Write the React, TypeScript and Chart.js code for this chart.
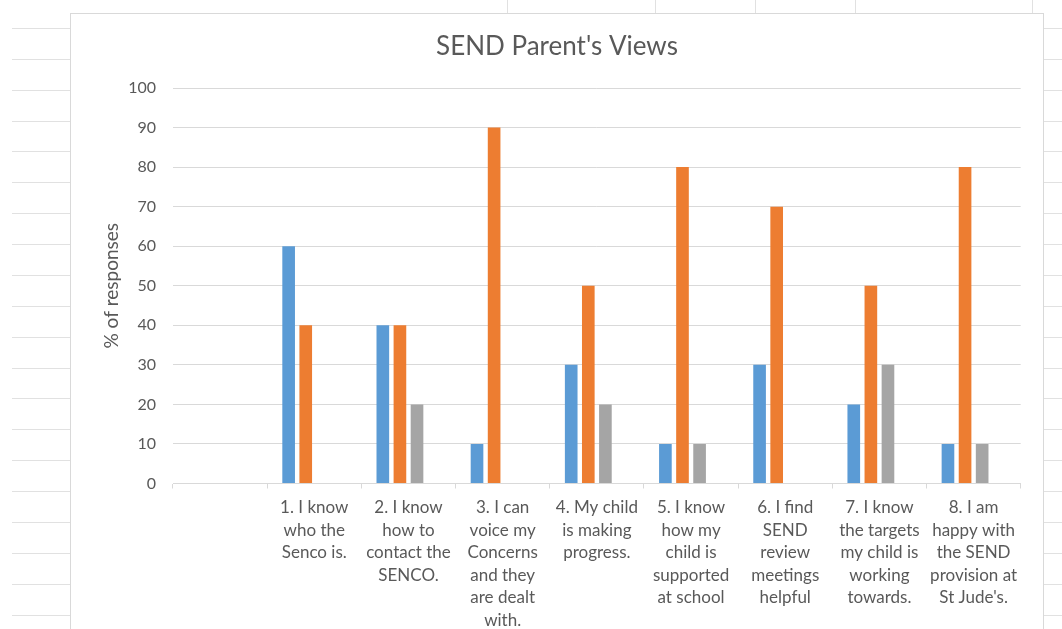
import React, { useEffect, useRef } from "react";
import { Chart, registerables } from "chart.js";

Chart.register(...registerables);

// ---- Data ----
const categories: (string | string[])[] = [
  "",
  ["1. I know", "who the", "Senco is."],
  ["2. I know", "how to", "contact the", "SENCO."],
  ["3. I can", "voice my", "Concerns", "and they", "are dealt", "with."],
  ["4. My child", "is making", "progress."],
  ["5. I know", "how my", "child is", "supported", "at school"],
  ["6. I find", "SEND", "review", "meetings", "helpful"],
  ["7. I know", "the targets", "my child is", "working", "towards."],
  ["8. I am", "happy with", "the SEND", "provision at", "St Jude's."],
];

const seriesBlue: (number | null)[] = [null, 60, 40, 10, 30, 10, 30, 20, 10];
const seriesOrange: (number | null)[] = [null, 40, 40, 90, 50, 80, 70, 50, 80];
const seriesGray: (number | null)[] = [null, 0, 20, 0, 20, 10, 0, 30, 10];
// empty fourth series (reserves its slot in each group, as in the original)
const seriesEmpty: (number | null)[] = [null, null, null, null, null, null, null, null, null];

const yTickValues = [0, 10, 20, 30, 40, 50, 60, 70, 80, 90, 100];

const chartTitle = "SEND Parent's Views";
const yAxisTitle = "% of responses";

const FONT = "Lato, 'Noto Sans', sans-serif";
const TEXT = "#595959";
const GRID = "#d9d9d9";

export default function App() {
  const canvasRef = useRef<HTMLCanvasElement | null>(null);

  useEffect(() => {
    document.body.style.margin = "0";
    const canvas = canvasRef.current;
    if (!canvas) return;
    const chart = new Chart(canvas, {
      type: "bar",
      data: {
        labels: categories,
        datasets: [
          { label: "A", data: seriesBlue, backgroundColor: "#5B9BD5", borderWidth: 0 },
          { label: "B", data: seriesOrange, backgroundColor: "#ED7D31", borderWidth: 0 },
          { label: "C", data: seriesGray, backgroundColor: "#A5A5A5", borderWidth: 0 },
          { label: "D", data: seriesEmpty, backgroundColor: "#FFC000", borderWidth: 0 },
        ],
      },
      options: {
        animation: false,
        responsive: false,
        maintainAspectRatio: false,
        datasets: {
          bar: { categoryPercentage: 0.726, barPercentage: 0.74 },
        },
        layout: { padding: { left: 22.3, right: 22.3, top: 0, bottom: 0 } },
        plugins: {
          legend: { display: false },
          tooltip: { enabled: false },
          title: {
            display: true,
            text: chartTitle,
            color: TEXT,
            font: { family: FONT, size: 26, weight: "normal", lineHeight: 1.2 },
            padding: { top: 17.5, bottom: 25.3 },
          },
        },
        scales: {
          x: {
            grid: {
              display: true,
              drawOnChartArea: false,
              drawTicks: true,
              tickLength: 5,
              color: GRID,
              offset: true,
            },
            border: { display: true, color: GRID },
            ticks: {
              color: TEXT,
              font: { family: FONT, size: 17, lineHeight: 1.3235 },
              padding: 8,
              maxRotation: 0,
              minRotation: 0,
              autoSkip: false,
            },
            afterFit: (s: any) => {
              s.height = 150.5;
            },
          },
          y: {
            min: 0,
            max: 100,
            afterBuildTicks: (s: any) => {
              s.ticks = yTickValues.map((v) => ({ value: v }));
            },
            ticks: {
              color: TEXT,
              font: { family: FONT, size: 16 },
              padding: 17,
            },
            grid: { color: GRID, drawTicks: false },
            border: { display: false },
            title: {
              display: true,
              text: yAxisTitle,
              color: TEXT,
              font: { family: FONT, size: 19, lineHeight: 1.2 },
              padding: { top: 7.3, bottom: 0 },
            },
            afterFit: (s: any) => {
              s.width = 79.7;
            },
          },
        },
      },
    });
    return () => chart.destroy();
  }, []);

  const rowLines = Array.from({ length: 20 }, (_, k) => 28 + k * 30.87);
  const topCols = [507, 655, 755, 855, 1032];

  return (
    <div
      style={{
        position: "fixed",
        left: 0,
        top: 0,
        width: 1062,
        height: 629,
        overflow: "hidden",
        background: "#ffffff",
      }}
    >
      {rowLines.map((y, i) => (
        <React.Fragment key={i}>
          <div style={{ position: "absolute", left: 12, top: Math.round(y), width: 58, height: 1, background: "#e1e1e1" }} />
          <div style={{ position: "absolute", left: 1044, top: Math.round(y), width: 18, height: 1, background: "#e1e1e1" }} />
        </React.Fragment>
      ))}
      {topCols.map((x, i) => (
        <div key={"c" + i} style={{ position: "absolute", left: x, top: 0, width: 1, height: 13, background: "#e1e1e1" }} />
      ))}
      <div
        style={{
          position: "absolute",
          left: 70,
          top: 13,
          width: 972,
          height: 640,
          border: "1px solid #d9d9d9",
          background: "#ffffff",
        }}
      >
        <canvas ref={canvasRef} width={972} height={620} style={{ display: "block", width: 972, height: 620 }} />
      </div>
    </div>
  );
}
